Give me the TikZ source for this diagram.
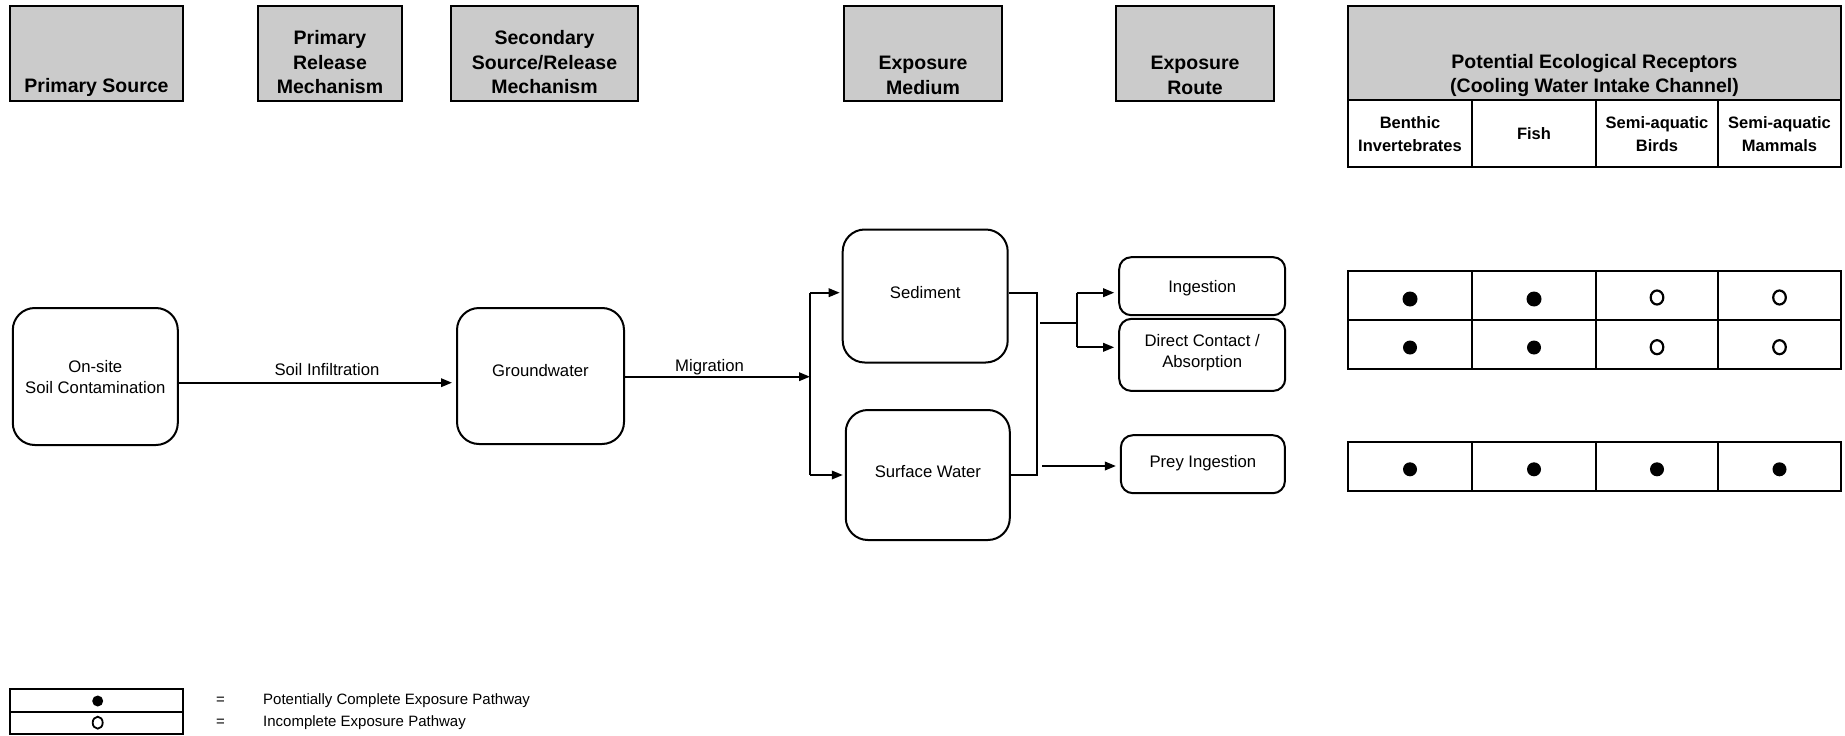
\documentclass[tikz,border=0pt]{standalone}
\usepackage{fontspec}
\setmainfont{Liberation Sans}
\usetikzlibrary{arrows.meta}
\definecolor{hdrgray}{RGB}{203,203,203}
\tikzset{
  hdr/.style={draw=black, line width=2.3pt, fill=hdrgray, inner sep=0pt},
  hdrtxt/.style={font=\fontsize{19.5}{24.5}\selectfont\bfseries, align=center, inner sep=0pt},
  subtxt/.style={font=\fontsize{16.5}{23}\selectfont\bfseries, align=center, inner sep=0pt},
  cell/.style={draw=black, line width=2.3pt, inner sep=0pt},
  flow/.style={draw=black, line width=2pt, rounded corners=22pt, inner sep=0pt},
  route/.style={draw=black, line width=2pt, rounded corners=12pt, inner sep=0pt},
  ftxt/.style={font=\fontsize{16.7}{20.5}\selectfont, align=center, inner sep=0pt},
  conn/.style={line width=1.9pt},
  arr/.style={conn, -{Triangle[length=11pt,width=8.5pt]}},
  lgtxt/.style={font=\fontsize{15}{18}\selectfont, anchor=west, inner sep=0pt},
  tbl/.style={line width=2.3pt},
  full/.style={fill=black},
  open/.style={draw=black, line width=2.2pt},
}
\begin{document}
\begin{tikzpicture}[x=1pt,y=-1pt]
\useasboundingbox (0,0) rectangle (1845,736);

% ---------- header boxes ----------
\node[hdr, minimum width=173pt, minimum height=95pt] (hPS) at (96.5,53.5) {};
\node[hdrtxt] (tPS) at (96.5,87) {Primary Source};
\node[hdr, minimum width=144pt, minimum height=95pt] (hPRM) at (330,53.5) {};
\node[hdrtxt] (tPRM) at (330,62.5) {Primary\\Release\\Mechanism};
\node[hdr, minimum width=187pt, minimum height=95pt] (hSSRM) at (544.5,53.5) {};
\node[hdrtxt] (tSSRM) at (544.5,62.5) {Secondary\\Source/Release\\Mechanism};
\node[hdr, minimum width=158pt, minimum height=95pt] (hEM) at (923,53.5) {};
\node[hdrtxt] (tEM) at (923,75.5) {Exposure\\Medium};
\node[hdr, minimum width=158pt, minimum height=95pt] (hER) at (1195,53.5) {};
\node[hdrtxt] (tER) at (1195,75.5) {Exposure\\Route};
\node[hdr, minimum width=493pt, minimum height=94pt] (hPER) at (1594.5,53) {};
\node[hdrtxt] (tPER) at (1594.5,75.5) {Potential Ecological Receptors\\(Cooling Water Intake Channel)};

% receptor columns
\node[cell, minimum width=124pt, minimum height=67pt] (cBI) at (1410,133.5) {};
\node[subtxt] (tBI) at (1410,134.5) {Benthic\\Invertebrates};
\node[cell, minimum width=124pt, minimum height=67pt] (cFI) at (1534,133.5) {};
\node[subtxt] (tFI) at (1534,133.5) {Fish};
\node[cell, minimum width=122pt, minimum height=67pt] (cSB) at (1657,133.5) {};
\node[subtxt] (tSB) at (1657,134.5) {Semi-aquatic\\Birds};
\node[cell, minimum width=123pt, minimum height=67pt] (cSM) at (1779.5,133.5) {};
\node[subtxt] (tSM) at (1779.5,134.5) {Semi-aquatic\\Mammals};

% ---------- flow boxes ----------
\node[flow, minimum width=165pt, minimum height=137pt] (onsite) at (95.3,376.5) {};
\node[ftxt] (tOnsite) at (95.3,377) {On-site\\Soil Contamination};
\node[flow, minimum width=167pt, minimum height=136pt] (ground) at (540.5,376) {};
\node[ftxt] (tGround) at (540.5,371) {Groundwater};
\node[flow, minimum width=165pt, minimum height=133pt] (sed) at (925.2,296) {};
\node[ftxt] (tSed) at (925.2,292.7) {Sediment};
\node[flow, minimum width=164pt, minimum height=130pt] (sw) at (927.8,475) {};
\node[ftxt] (tSw) at (927.8,472) {Surface Water};
\node[route, minimum width=166pt, minimum height=58pt] (ing) at (1202.2,286.2) {};
\node[ftxt] (tIng) at (1202.2,288) {Ingestion};
\node[route, minimum width=166pt, minimum height=72pt] (dc) at (1202.2,354.9) {};
\node[ftxt] (tDc) at (1202.2,352.5) {Direct Contact /\\Absorption};
\node[route, minimum width=164pt, minimum height=58pt] (prey) at (1202.9,464.2) {};
\node[ftxt] (tPrey) at (1202.9,463.5) {Prey Ingestion};

% ---------- connectors ----------
\coordinate (siStart) at (178,382.7);
\draw[arr, shorten >=4pt] (siStart) -- (siStart -| ground.west);
\node[ftxt] (lSI) at (327,370) {Soil Infiltration};

\coordinate (gStart) at (624,376.7);
\coordinate (jn) at (810,376.7);
\coordinate (jtop) at (810,292.7);
\coordinate (jbot) at (810,475);
\draw[arr] (gStart) -- (jn);
\node[ftxt] (lMig) at (709.5,367) {Migration};
\draw[conn] (jtop) -- (jbot);
\draw[arr, shorten >=2pt] (jtop) -- (jtop -| sed.west);
\draw[arr, shorten >=2pt] (jbot) -- (jbot -| sw.west);

\coordinate (bTop) at (1037.3,292.7);
\coordinate (bBot) at (1037.3,475);
\draw[conn] (bTop -| sed.east) -- (bTop) -- (bBot) -- (bBot -| sw.east);

\coordinate (bMid) at (1040,322.7);
\coordinate (split) at (1076.7,322.7);
\coordinate (sTop) at (1076.7,292.7);
\coordinate (sBot) at (1076.7,347.3);
\draw[conn] (bMid) -- (split);
\draw[conn] (sTop) -- (sBot);
\draw[arr, shorten >=4pt] (sTop) -- (sTop -| ing.west);
\draw[arr, shorten >=4pt] (sBot) -- (sBot -| dc.west);
\coordinate (pStart) at (1042.3,466);
\draw[arr, shorten >=4pt] (pStart) -- (pStart -| prey.west);

% ---------- receptor tables ----------
\draw[tbl] (1348,271) rectangle (1841,369.3);
\draw[tbl] (1348,320) -- (1841,320);
\foreach \x in {1472,1596,1718} \draw[tbl] (\x,271) -- (\x,369.3);
\draw[tbl] (1348,441.7) rectangle (1841,491);
\foreach \x in {1472,1596,1718} \draw[tbl] (\x,441.7) -- (\x,491);

% row 1: Ingestion
\fill[full] (1410,299) circle (7.5);
\fill[full] (1534,299) circle (7.5);
\draw[open] (1657,297.5) ellipse (6.3 and 7);
\draw[open] (1779.5,297.5) ellipse (6.3 and 7);
% row 2: Direct contact
\fill[full] (1410,347.5) circle (7);
\fill[full] (1534,347.5) circle (7);
\draw[open] (1657,347.2) ellipse (6.3 and 7);
\draw[open] (1779.5,347.2) ellipse (6.3 and 7);
% row 3: Prey ingestion
\foreach \x in {1410,1534,1657,1779.5} \fill[full] (\x,469.3) circle (7);

% ---------- legend ----------
\draw[line width=2pt] (10,689.3) rectangle (183,734.3);
\draw[line width=2pt] (10,712) -- (183,712);
\fill[full] (97.7,701) circle (5.5);
\draw[open, line width=1.8pt] (97.7,722.7) ellipse (5 and 6);
\node[lgtxt] (eq1) at (216,701) {=};
\node[lgtxt] (eq2) at (216,722.7) {=};
\node[lgtxt] (lg1) at (263,701) {Potentially Complete Exposure Pathway};
\node[lgtxt] (lg2) at (263,722.7) {Incomplete Exposure Pathway};
\end{tikzpicture}
\end{document}
